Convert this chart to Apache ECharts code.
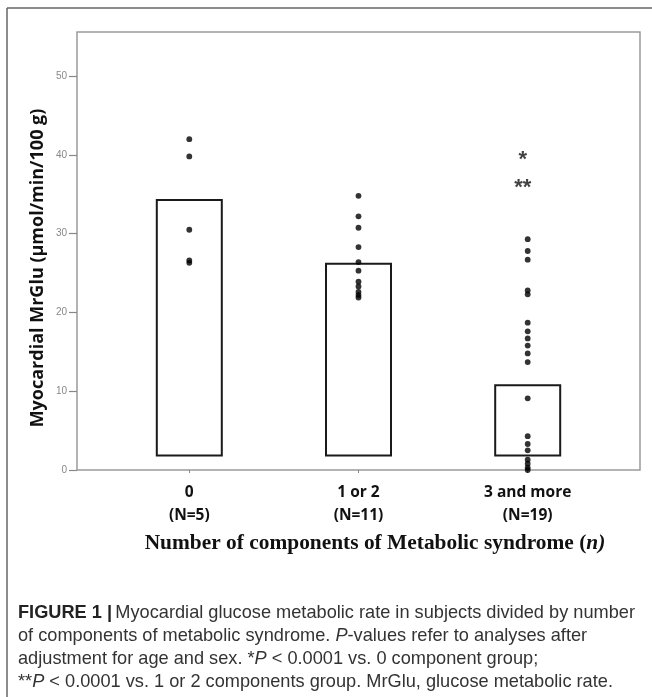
<!DOCTYPE html>
<html>
<head>
<meta charset="utf-8">
<script src="https://cdn.jsdelivr.net/npm/echarts@6/dist/echarts.min.js"></script>
<style>
html,body{margin:0;padding:0;background:#fff;}
#chart{width:652px;height:697px;}
</style>
</head>
<body>
<div id="chart"></div>
<script>
// ---- data ----
const categories = ['0\n(N=5)', '1 or 2\n(N=11)', '3 and more\n(N=19)'];
const barMeans = [34.4, 26.3, 10.9];
const barBase = 1.7;
const group0 = [42.0, 39.8, 30.5, 26.6, 26.3];
const group1 = [34.8, 32.2, 30.75, 28.3, 26.4, 25.3, 23.9, 23.3, 22.6, 22.2, 21.9];
const group2 = [29.3, 27.8, 26.7, 22.8, 22.3, 18.7, 17.6, 16.7, 15.8, 14.8, 13.7, 9.1, 4.3, 3.3, 2.5, 1.3, 0.8, 0.3, 0.0];
const sigLabels = ['*', '**'];
const sigValues = [39.6, 36.0];
const yTicks = [0, 10, 20, 30, 40, 50];
const yMax = 55.6;

const groups = [group0, group1, group2];
const points = [];
groups.forEach((g, i) => g.forEach(v => points.push([i, v])));
const sigData = sigValues.map((v, i) => ({value: [2, v], label: {formatter: sigLabels[i]}}));

const chart = echarts.init(document.getElementById('chart'), null, {renderer: 'canvas'});
const option = {
  backgroundColor: '#fff',
  animation: false,
  grid: [
    {left: 104.7, right: 39.7, top: 32, bottom: 227, containLabel: false},
    {left: 77, right: 12, top: 32, bottom: 227, show: true, borderColor: '#9a9a9a', borderWidth: 1.5, backgroundColor: 'transparent', z: 0}
  ],
  xAxis: [
    {
      type: 'category', gridIndex: 0, data: categories,
      axisLine: {show: false},
      axisTick: {show: true, alignWithLabel: true, length: 3, lineStyle: {color: '#888', width: 1}},
      axisLabel: {
        margin: 11, color: '#111', fontFamily: 'Open Sans', fontWeight: 'bold', fontSize: 15.5, lineHeight: 23
      }
    },
    {type: 'value', gridIndex: 1, show: false, min: 0, max: 1}
  ],
  yAxis: [
    {
      type: 'value', gridIndex: 0, min: 0, max: yMax, interval: 10, offset: 27.7,
      axisLine: {show: false},
      axisTick: {show: true, length: 8, lineStyle: {color: '#888', width: 1.2}, customValues: yTicks},
      axisLabel: {margin: 10, color: '#888', fontSize: 10, fontFamily: 'Liberation Sans', customValues: yTicks,
        formatter: v => (yTicks.indexOf(v) >= 0 ? String(v) : '')},
      splitLine: {show: false}
    },
    {type: 'value', gridIndex: 1, show: false, min: 0, max: 1}
  ],
  series: [
    {
      type: 'bar', stack: 'm', xAxisIndex: 0, yAxisIndex: 0, barWidth: 67,
      data: barMeans.map(() => barBase),
      itemStyle: {color: 'transparent', borderWidth: 0}, silent: true
    },
    {
      type: 'bar', stack: 'm', xAxisIndex: 0, yAxisIndex: 0, barWidth: 67,
      data: barMeans.map(m => +(m - barBase).toFixed(2)),
      itemStyle: {color: '#fff', borderColor: '#1a1a1a', borderWidth: 2}
    },
    {
      type: 'scatter', xAxisIndex: 0, yAxisIndex: 0, z: 5,
      symbol: 'circle', symbolSize: 5.8,
      itemStyle: {color: '#000'},
      data: points
    },
    {
      type: 'scatter', xAxisIndex: 0, yAxisIndex: 0, z: 6,
      symbol: 'circle', symbolSize: 1, itemStyle: {color: 'rgba(0,0,0,0)'},
      label: {show: true, position: 'inside', offset: [-5, 2], color: '#111',
        fontFamily: 'Liberation Sans', fontWeight: 'bold', fontSize: 22},
      data: sigData
    }
  ],
  graphic: [
    {type: 'line', shape: {x1: 7, y1: 8, x2: 652, y2: 8}, style: {stroke: '#666', lineWidth: 1.5}},
    {type: 'line', shape: {x1: 7, y1: 8, x2: 7, y2: 697}, style: {stroke: '#666', lineWidth: 1.5}},
    {
      type: 'text', x: 38, y: 268, rotation: Math.PI / 2,
      style: {text: 'Myocardial MrGlu (µmol/min/100 g)', fill: '#111', font: 'bold 18px "Open Sans"',
        textAlign: 'center', textVerticalAlign: 'middle'}
    },
    {
      type: 'text', x: 375, y: 543,
      style: {
        text: '{a|Number of components of Metabolic syndrome (}{b|n)}',
        textAlign: 'center', textVerticalAlign: 'middle',
        rich: {
          a: {font: 'bold 21.4px "Liberation Serif"', fill: '#111'},
          b: {font: 'italic bold 21.4px "Liberation Serif"', fill: '#111'}
        }
      }
    },
    {
      type: 'text', x: 18, y: 601,
      style: {
        text: '{b|FIGURE 1 |} {r|Myocardial glucose metabolic rate in subjects divided by number}\n' +
              '{r|of components of metabolic syndrome. }{i|P}{r|-values refer to analyses after}\n' +
              '{r|adjustment for age and sex. *}{i|P}{r| < 0.0001 vs. 0 component group;}\n' +
              '{r|**}{i|P}{r| < 0.0001 vs. 1 or 2 components group. MrGlu, glucose metabolic rate.}',
        rich: {
          b: {font: 'bold 18.2px "Liberation Sans"', fill: '#222', lineHeight: 23},
          r: {font: '18.2px "Liberation Sans"', fill: '#333', lineHeight: 23},
          i: {font: 'italic 18.2px "Liberation Sans"', fill: '#333', lineHeight: 23}
        }
      }
    }
  ]
};
chart.setOption(option);
</script>
</body>
</html>
